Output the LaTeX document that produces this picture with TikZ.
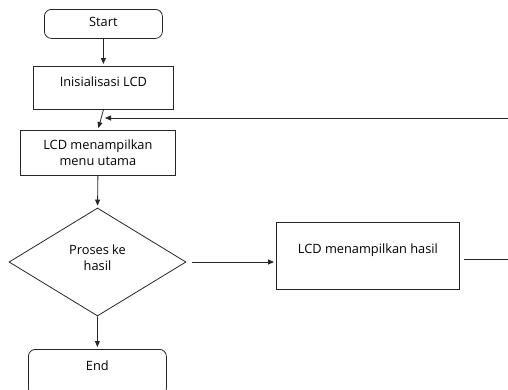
\documentclass[tikz,border=0pt]{standalone}
\usepackage{fontspec}
\setmainfont{Open Sans}
\usetikzlibrary{shapes.geometric,arrows.meta,positioning}
\tikzset{
flow/.style={
  draw=black!85,
  line width=0.8pt,
  inner sep=0pt,
  align=center,
  font=\fontsize{12.8}{16}\selectfont
  },
term/.style={
  flow,
  rounded corners=7pt,
  minimum width=#1
  },
proc/.style={
  flow,
  minimum width=#1
  },
dec/.style={
  flow,
  diamond,
  minimum width=177pt,
  minimum height=108pt
  },
link/.style={
  draw=black!85,
  line width=0.8pt,
  -{Triangle[length=6pt,width=5pt]}
  }
}
\begin{document}
\begin{tikzpicture}[x=1pt,y=-1pt]
\useasboundingbox (0,0) rectangle (508,389);
\clip (0,0) rectangle (508,389);

\node[term=118pt,anchor=north west,text height=17pt,text depth=12pt] at (44,9) (start) {Start};

\node[proc=140pt,anchor=north west,text height=20pt,text depth=23pt] at (33,66) (init) {Inisialisasi LCD};

\node[proc=155pt,anchor=north west,minimum height=45pt] at (20,130) (menu) {LCD menampilkan\\menu utama};

\node[dec] at (97.5,262) (cek) {};
\node at (97.5,258) (cektxt) [flow,draw=none] {Proses ke\\hasil};

\node[proc=183pt,anchor=north west,text height=31pt,text depth=36pt] at (276,222) (hasil) {LCD menampilkan hasil};

\node[term=138pt,anchor=north west,text height=21pt,text depth=25pt] at (28,349) (fin) {End};

\coordinate (outR) at (508,259);
\coordinate (backR) at (508,118);
\coordinate (backL) at (105,118);

\begin{scope}[shorten >= 2pt]
\draw[link] (start.south) -- (init.north);
\draw[link] (init.south) -- (menu.north);
\draw[link] (menu.south) -- (cek.north);
\draw[link,shorten <= 6pt] (cek.east) -- (cek.east -| hasil.west);
\draw[link] (cek.south) -- (fin.north);
\draw[link,shorten >= 0pt] (backR) -- (backL);
\draw[link,-,shorten >= 0pt,shorten <= 4pt] (hasil.east |- outR) -- (outR);
\end{scope}
\end{tikzpicture}
\end{document}
